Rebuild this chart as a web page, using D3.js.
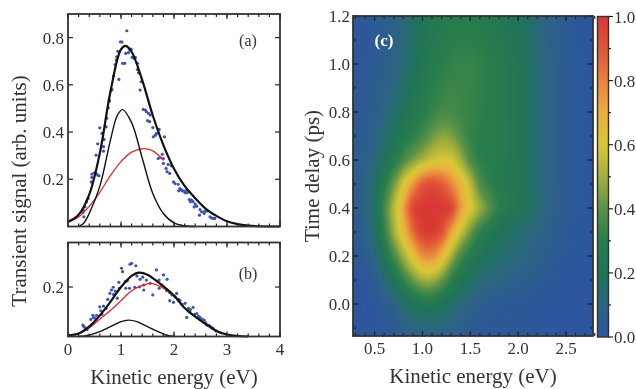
<!DOCTYPE html>
<html>
<head>
<meta charset="utf-8">
<script src="https://cdn.jsdelivr.net/npm/d3@7"></script>
<style>
html, body { margin: 0; padding: 0; background: #fff; }
#wrap { position: relative; width: 636px; height: 389px; overflow: hidden; filter: blur(.35px); }
canvas { position: absolute; left: 0; top: 0; }
svg { position: absolute; left: 0; top: 0; }
text { font-family: "Liberation Serif", serif; fill: #333; }
</style>
</head>
<body>
<div id="wrap"></div>
<script>
// panel (a) curves, [energy, signal]
const aTotal = [[0,.02],[.2,.05],[.4,.135],[.6,.31],[.8,.57],[1,.75],[1.09,.765],[1.2,.74],[1.4,.62],[1.6,.47],[1.8,.345],[2,.245],[2.2,.172],[2.4,.12],[2.6,.075],[2.8,.045],[3,.022],[3.2,.01],[3.4,.004],[3.6,.001],[4,0]];
const aThin = [[.2,0],[.3,.015],[.4,.055],[.6,.17],[.8,.365],[.93,.47],[1.03,.495],[1.2,.44],[1.4,.29],[1.6,.14],[1.8,.055],[2,.015],[2.2,.003],[2.4,0]];
const aRed = [[0,.018],[.2,.04],[.4,.085],[.6,.145],[.8,.215],[1,.275],[1.2,.315],[1.43,.33],[1.6,.32],[1.8,.28]];
// panel (a) scattered points
const aDots = [[1.11,.829],[.99,.782],[1.02,.781],[.94,.742],[1.16,.751],[1.18,.747],[1.19,.751],[1.09,.733],[1.14,.736],[.92,.719],[.91,.705],[.89,.686],[1.03,.691],[1.07,.691],[1.21,.716],[1.25,.712],[1.27,.716],[1.31,.691],[1.31,.665],[1.33,.651],[.86,.637],[.96,.623],[1.38,.613],[.83,.58],[.81,.575],[1.36,.578],[.78,.535],[.78,.53],[.76,.503],[1.42,.496],[1.46,.493],[1.48,.486],[1.55,.472],[1.52,.479],[.73,.458],[1.5,.448],[1.54,.444],[.72,.422],[.6,.418],[.64,.394],[1.6,.419],[1.72,.411],[1.67,.394],[1.65,.387],[1.61,.38],[1.82,.38],[.68,.369],[.56,.35],[.67,.338],[.67,.319],[.53,.302],[1.78,.306],[1.74,.292],[1.8,.288],[1.7,.288],[1.8,.267],[1.89,.263],[1.95,.257],[1.85,.246],[1.87,.232],[1.92,.225],[.5,.227],[.53,.225],[.56,.218],[.45,.222],[.585,.215],[.45,.208],[.44,.189],[1.99,.189],[2.02,.182],[2.08,.179],[2.11,.161],[2.09,.151],[2.16,.151],[2.24,.154],[2.21,.143],[2.25,.143],[2.29,.114],[2.33,.112],[2.36,.105],[2.4,.095],[2.43,.086],[2.38,.083],[2.49,.072],[2.52,.062],[2.58,.064],[2.63,.066],[2.48,.048],[2.57,.055],[2.68,.041],[2.74,.034],[2.77,.034],[.38,.119],[.35,.105],[.32,.083],[.29,.069],[.28,.059],[.3,.041],[2.14,.155],[2.19,.15],[2.31,.105],[2.71,.036]];

// panel (b) curves
const bTotal = [[0,.005],[.2,.012],[.4,.04],[.6,.085],[.8,.14],[1,.2],[1.2,.245],[1.33,.258],[1.5,.25],[1.7,.22],[1.99,.168],[2.2,.115],[2.4,.08],[2.6,.05],[2.8,.022],[3,.008],[3.2,.002],[3.4,0]];
const bThin = [[.2,0],[.4,.005],[.6,.02],[.8,.04],[1,.06],[1.14,.066],[1.3,.06],[1.5,.04],[1.7,.02],[1.85,.006],[2,0]];
const bRed = [[.3,.02],[.4,.035],[.6,.07],[.8,.105],[1,.145],[1.2,.185],[1.4,.207],[1.58,.215],[1.8,.195],[2,.165]];
const bDots = [[.28,.046],[.32,.036],[.36,.028],[.4,.039],[.43,.069],[.48,.077],[.54,.086],[.47,.086],[.6,.12],[.67,.123],[.62,.104],[.72,.114],[.79,.174],[.82,.188],[.855,.199],[.89,.184],[.96,.219],[.97,.195],[1.08,.222],[1.01,.276],[1.03,.262],[1.17,.292],[1.2,.296],[1.28,.286],[1.09,.195],[1.16,.195],[1.26,.199],[1.35,.201],[1.43,.208],[1.43,.188],[1.6,.168],[1.36,.231],[1.48,.228],[1.67,.269],[1.8,.249],[1.87,.231],[1.72,.228],[1.77,.208],[1.72,.195],[1.86,.185],[1.92,.177],[2.05,.174],[2.02,.161],[1.92,.145],[1.99,.138],[2.11,.147],[2.21,.134],[2.27,.114],[2.31,.109],[2.36,.118],[2.24,.077],[2.43,.093],[2.49,.077],[2.57,.066],[2.62,.046],[2.69,.039],[2.74,.032],[2.79,.023],[.3,.04],[.5,.075],[.64,.09],[.75,.15],[.86,.17],[.93,.155],[1.12,.225],[1.3,.245],[1.41,.24],[1.55,.215],[1.96,.168],[2.08,.15],[2.15,.13],[2.3,.1],[2.39,.09],[2.46,.082],[2.53,.07],[2.6,.055],[2.66,.045],[2.72,.035]];

// heatmap (c): signal read on a grid of energy / delay
const cEnergy = [.3,.5,.7,.8,.9,1,1.1,1.2,1.3,1.4,1.5,1.6,1.8,2,2.2,2.4,2.8];
const cDelay = [-.133,0,.1,.2,.3,.4,.5,.6,.7,.8,1,1.2];
const cSignal = [
  [0,.02,.03,.05,.07,.07,.07,.07,.06,.05,.04,.03,.02,.02,.01,.01,0],
  [0,.02,.08,.16,.2,.24,.24,.2,.17,.12,.09,.06,.04,.03,.02,.01,0],
  [0,.05,.2,.32,.42,.5,.5,.42,.3,.22,.18,.14,.1,.07,.05,.02,0],
  [.02,.1,.36,.5,.64,.78,.8,.68,.5,.35,.27,.22,.16,.12,.08,.04,0],
  [.03,.14,.5,.66,.85,1,1,.95,.72,.56,.42,.3,.2,.15,.1,.05,0],
  [.04,.17,.54,.72,1,1,1,1,1,.74,.62,.5,.3,.23,.15,.07,0],
  [.05,.16,.42,.6,.75,.92,.96,.9,.8,.68,.55,.36,.27,.23,.14,.07,0],
  [.04,.11,.27,.36,.44,.5,.57,.6,.6,.5,.36,.3,.28,.23,.14,.07,0],
  [.04,.08,.2,.26,.3,.35,.42,.47,.45,.38,.32,.3,.29,.23,.14,.07,0],
  [.03,.07,.15,.2,.25,.28,.33,.36,.36,.34,.33,.31,.28,.23,.14,.07,0],
  [.02,.04,.09,.13,.18,.23,.27,.3,.32,.33,.33,.32,.28,.23,.14,.07,0],
  [.02,.04,.08,.12,.16,.2,.24,.26,.28,.28,.28,.27,.24,.2,.12,.06,0]
];

// colour bar stops
const cbarStops = [0,.1,.2,.3,.4,.5,.6,.7,.8,.9,1];
const cbarColors = ["#2c54a0","#2c6482","#1f7358","#287d4b","#5a9146","#a5af3c","#d7c837","#ebaf3c","#e6823c","#e15537","#d73732"];

const color = d3.scaleLinear().domain(cbarStops).range(cbarColors).clamp(true);

const wrap = d3.select("#wrap");
const canvas = wrap.append("canvas").attr("width", 636).attr("height", 389);
const svg = wrap.append("svg").attr("width", 636).attr("height", 389);

const ink = "#222";

// draws one of the two left panels
function linePanel(top, bottom, yMax, yTicks, label, labelY, total, thin, red, dots) {
  const x = d3.scaleLinear().domain([0, 4]).range([68, 280]);
  const y = d3.scaleLinear().domain([0, yMax]).range([bottom, top]);
  const g = svg.append("g");

  const line = d3.line().x(d => x(d[0])).y(d => y(d[1])).curve(d3.curveCatmullRom);

  g.selectAll("circle").data(dots).enter().append("circle")
    .attr("cx", d => x(d[0])).attr("cy", d => y(d[1])).attr("r", 1.6)
    .attr("fill", "#3b57ab");

  g.append("path").datum(red).attr("d", line).attr("fill", "none").attr("stroke", "#e8262a").attr("stroke-width", 1.3);
  g.append("path").datum(thin).attr("d", line).attr("fill", "none").attr("stroke", "#111").attr("stroke-width", 1.4);
  g.append("path").datum(total).attr("d", line).attr("fill", "none").attr("stroke", "#111").attr("stroke-width", 2.2);

  frameTicks(g, x, y, d3.range(0, 4.01, .2), d3.range(0, 4.01, 1), [], yTicks, 68, 280, top, bottom, 3, 5);

  g.append("text").text(label).attr("x", 248).attr("y", labelY).attr("font-size", 16).attr("text-anchor", "middle");
  return { x, y, g };
}

// inward ticks on all four sides plus the frame
function frameTicks(g, x, y, xMinor, xMajor, yMinor, yMajor, l, r, t, b, minorLen, majorLen) {
  const seg = [];
  xMinor.forEach(v => { seg.push([x(v), b, x(v), b - minorLen], [x(v), t, x(v), t + minorLen]); });
  xMajor.forEach(v => { seg.push([x(v), b, x(v), b - majorLen], [x(v), t, x(v), t + majorLen]); });
  yMinor.forEach(v => { seg.push([l, y(v), l + minorLen, y(v)], [r, y(v), r - minorLen, y(v)]); });
  yMajor.forEach(v => { seg.push([l, y(v), l + majorLen, y(v)], [r, y(v), r - majorLen, y(v)]); });
  g.append("g").selectAll("line").data(seg).enter().append("line")
    .attr("x1", d => d[0]).attr("y1", d => d[1]).attr("x2", d => d[2]).attr("y2", d => d[3])
    .attr("stroke", ink).attr("stroke-width", 1.2);
  g.append("rect").attr("x", l).attr("y", t).attr("width", r - l).attr("height", b - t)
    .attr("fill", "none").attr("stroke", "#333").attr("stroke-width", 1.8);
}

const pa = linePanel(14, 226.5, .9, [.2, .4, .6, .8], "(a)", 46, aTotal, aThin, aRed, aDots);
const pb = linePanel(242.5, 336.5, .38, [.2], "(b)", 279, bTotal, bThin, bRed, bDots);

pa.g.selectAll(".yl").data([.2, .4, .6, .8]).enter().append("text")
  .attr("x", 64).attr("y", d => pa.y(d) + 6).attr("text-anchor", "end").attr("font-size", 17).text(d => d.toFixed(1));
pb.g.append("text").attr("x", 64).attr("y", pb.y(.2) + 6).attr("text-anchor", "end").attr("font-size", 17).text("0.2");
pb.g.selectAll(".xl").data([0, 1, 2, 3, 4]).enter().append("text")
  .attr("x", d => pb.x(d)).attr("y", 355).attr("text-anchor", "middle").attr("font-size", 17).text(d => d);

svg.append("text").attr("x", 174).attr("y", 384).attr("text-anchor", "middle").attr("font-size", 21).text("Kinetic energy (eV)");
svg.append("text").attr("transform", "translate(26,191) rotate(-90)").attr("text-anchor", "middle").attr("font-size", 21).text("Transient signal (arb. units)");

// heatmap (c)
const cx = d3.scaleLinear().domain([.5, 2.5]).range([374.6, 566]);
const cy = d3.scaleLinear().domain([0, 1.2]).range([304, 16]);
const cl = 353, cr = 593, ct = 16, cb = 336;
const cw = cr - cl, ch = cb - ct;

const ctx = canvas.node().getContext("2d");
const field = new Float32Array(cw * ch);
const colIdx = d3.scaleLinear().domain(cEnergy).range(d3.range(cEnergy.length)).clamp(true);
const rowIdx = d3.scaleLinear().domain(cDelay).range(d3.range(cDelay.length)).clamp(true);
for (let j = 0; j < ch; j++) {
  const rf = rowIdx(cy.invert(ct + j + .5));
  const r0 = Math.min(Math.floor(rf), cDelay.length - 2);
  for (let i = 0; i < cw; i++) {
    const cf = colIdx(cx.invert(cl + i + .5));
    const c0 = Math.min(Math.floor(cf), cEnergy.length - 2);
    const a = d3.interpolateNumber(cSignal[r0][c0], cSignal[r0][c0 + 1])(cf - c0);
    const b = d3.interpolateNumber(cSignal[r0 + 1][c0], cSignal[r0 + 1][c0 + 1])(cf - c0);
    field[j * cw + i] = a + (b - a) * (rf - r0);
  }
}
d3.blur2({ data: field, width: cw, height: ch }, 3);
const img = ctx.createImageData(cw, ch);
field.forEach((v, k) => {
  const c = d3.rgb(color(v));
  img.data[k * 4] = c.r; img.data[k * 4 + 1] = c.g; img.data[k * 4 + 2] = c.b; img.data[k * 4 + 3] = 255;
});
ctx.putImageData(img, cl, ct);

const gc = svg.append("g");
frameTicks(gc, cx, cy, d3.range(.3, 2.81, .1), [.5, 1, 1.5, 2, 2.5], d3.range(-.1, 1.21, .1), d3.range(0, 1.21, .2), cl, cr, ct, cb, 3, 5);
gc.selectAll(".xl").data([.5, 1, 1.5, 2, 2.5]).enter().append("text")
  .attr("x", d => cx(d)).attr("y", 354).attr("text-anchor", "middle").attr("font-size", 17).text(d => d.toFixed(1));
gc.selectAll(".yl").data(d3.range(0, 1.21, .2)).enter().append("text")
  .attr("x", 350).attr("y", d => cy(d) + 6).attr("text-anchor", "end").attr("font-size", 17).text(d => d.toFixed(1));
gc.append("text").text("(c)").attr("x", 384).attr("y", 46).attr("text-anchor", "middle")
  .attr("font-size", 17).attr("font-weight", "bold").style("fill", "#fff");

svg.append("text").attr("x", 473).attr("y", 383).attr("text-anchor", "middle").attr("font-size", 21).text("Kinetic energy (eV)");
svg.append("text").attr("transform", "translate(319,176) rotate(-90)").attr("text-anchor", "middle").attr("font-size", 21).text("Time delay (ps)");

// colour bar
const barY = d3.scaleLinear().domain([0, 1]).range([337, 16.5]);
const grad = svg.append("defs").append("linearGradient").attr("id", "cbar")
  .attr("x1", 0).attr("y1", 1).attr("x2", 0).attr("y2", 0);
grad.selectAll("stop").data(cbarStops).enter().append("stop")
  .attr("offset", d => d).attr("stop-color", d => color(d));
svg.append("rect").attr("x", 597.5).attr("y", 16.5).attr("width", 11).attr("height", 320.5)
  .attr("fill", "url(#cbar)").attr("stroke", "#333").attr("stroke-width", 1.4);
const gb = svg.append("g");
gb.selectAll("line").data(d3.range(0, 1.01, .1)).enter().append("line")
  .attr("x1", 608).attr("x2", (d, i) => i % 2 ? 611 : 613)
  .attr("y1", d => barY(d)).attr("y2", d => barY(d)).attr("stroke", ink).attr("stroke-width", 1.2);
gb.selectAll("text").data(d3.range(0, 1.01, .2)).enter().append("text")
  .attr("x", 614).attr("y", d => barY(d) + 6).attr("font-size", 17).text(d => d.toFixed(1));
</script>
</body>
</html>
